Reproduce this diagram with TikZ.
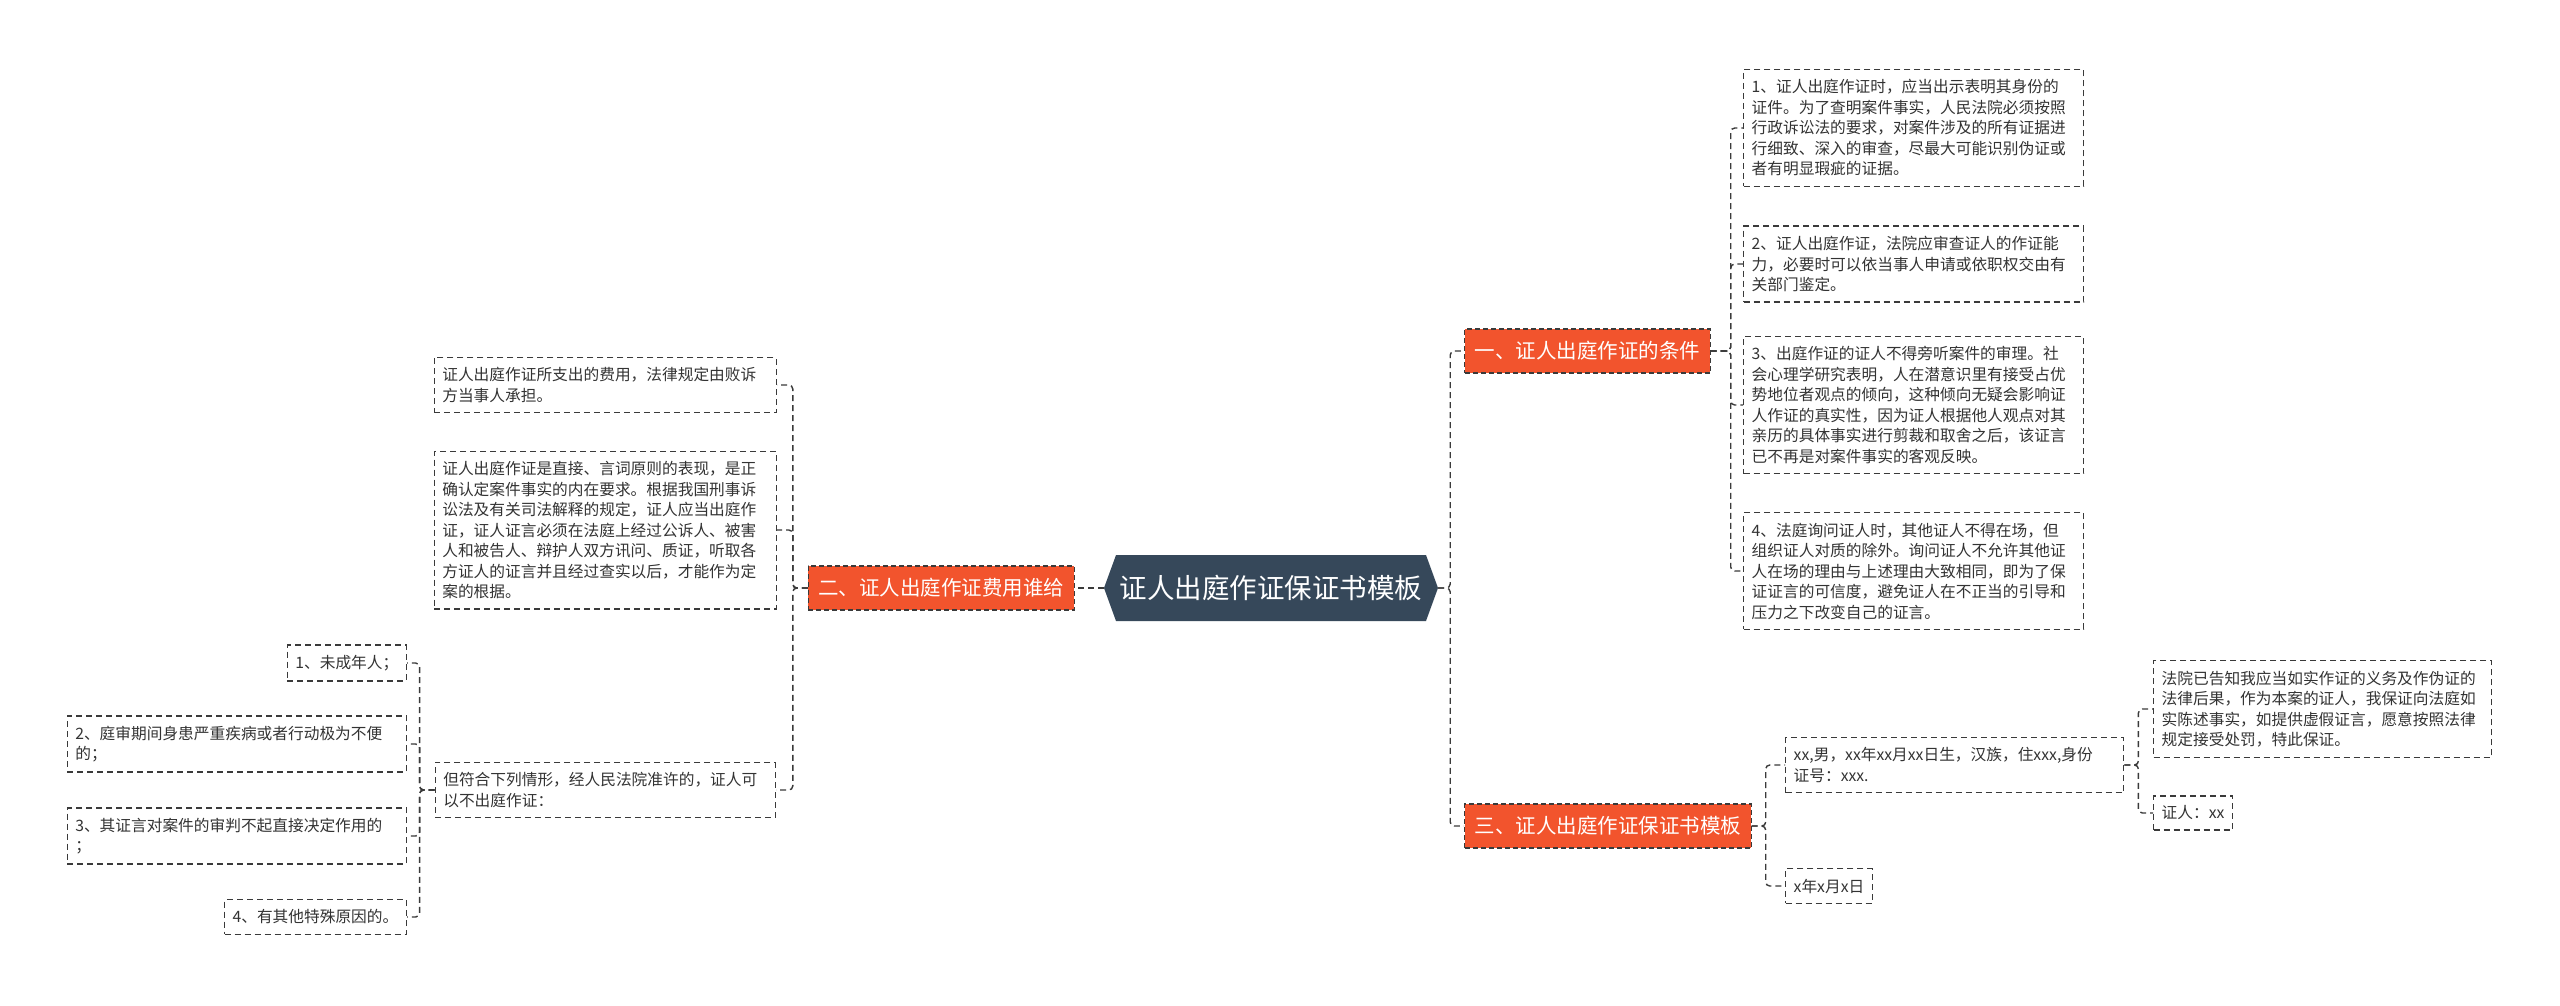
\documentclass[tikz,border=0pt]{standalone}
\usepackage{fontspec}
\setmainfont{Noto Sans CJK SC}
\usepackage{xcolor}
\usepackage{tikz}
\usetikzlibrary{shapes.symbols,positioning,calc}
\definecolor{rootfill}{HTML}{36485A}
\definecolor{branchfill}{HTML}{F2542D}
\definecolor{linkgray}{HTML}{3A3A3A}
\definecolor{leaftext}{HTML}{333333}

\begin{document}
\begin{tikzpicture}[
    x=1pt, y=-1pt,
    link/.style={draw=linkgray, line width=1.4pt, dash pattern=on 6pt off 4pt, rounded corners=4pt},
    rootbox/.style={signal, signal to=east and west, signal pointer angle=140, fill=rootfill, text=white, minimum width=334pt, minimum height=66pt, inner sep=0pt, font=\fontsize{27.5pt}{30pt}\selectfont},
    branch/.style={fill=branchfill, draw=linkgray, line width=1.2pt, dash pattern=on 5pt off 3pt, text=white, inner xsep=10pt, minimum height=44pt, font=\fontsize{20.5pt}{24pt}\selectfont},
    leaf/.style={draw=linkgray, line width=1.4pt, dash pattern=on 6pt off 4pt, text=leaftext, align=left, inner xsep=8pt, inner ysep=10pt, font=\fontsize{15.7pt}{20.5pt}\selectfont}
]
\fill[white] (0,0) rectangle (2560,1005);
\useasboundingbox (0,0) rectangle (2560,1005);

\node[rootbox] (root) at (1271,588) {证人出庭作证保证书模板};

\node[branch, anchor=west] (cond) at (1464,351) {一、证人出庭作证的条件};
\node[branch, anchor=east] (fee) at (1075,588) {二、证人出庭作证费用谁给};
\node[branch, anchor=west] (tmpl) at (1464,826) {三、证人出庭作证保证书模板};

\node[leaf, text width=324pt, anchor=west] (cond1) at (1743,128) {1、证人出庭作证时，应当出示表明其身份的\\证件。为了查明案件事实，人民法院必须按照\\行政诉讼法的要求，对案件涉及的所有证据进\\行细致、深入的审查，尽最大可能识别伪证或\\者有明显瑕疵的证据。};
\node[leaf, text width=324pt, anchor=west] (cond2) at (1743,264) {2、证人出庭作证，法院应审查证人的作证能\\力，必要时可以依当事人申请或依职权交由有\\关部门鉴定。};
\node[leaf, text width=324pt, anchor=west] (cond3) at (1743,405) {3、出庭作证的证人不得旁听案件的审理。社\\会心理学研究表明，人在潜意识里有接受占优\\势地位者观点的倾向，这种倾向无疑会影响证\\人作证的真实性，因为证人根据他人观点对其\\亲历的具体事实进行剪裁和取舍之后，该证言\\已不再是对案件事实的客观反映。};
\node[leaf, text width=324pt, anchor=west] (cond4) at (1743,571) {4、法庭询问证人时，其他证人不得在场，但\\组织证人对质的除外。询问证人不允许其他证\\人在场的理由与上述理由大致相同，即为了保\\证证言的可信度，避免证人在不正当的引导和\\压力之下改变自己的证言。};

\node[leaf, text width=322pt, anchor=west] (info) at (1785,765) {xx,男，xx年xx月xx日生，汉族，住xxx,身份\\证号：xxx.};
\node[leaf, anchor=west] (date) at (1785,886) {x年x月x日};
\node[leaf, text width=322pt, anchor=west] (pledge) at (2153,709) {法院已告知我应当如实作证的义务及作伪证的\\法律后果，作为本案的证人，我保证向法庭如\\实陈述事实，如提供虚假证言，愿意按照法律\\规定接受处罚，特此保证。};
\node[leaf, anchor=west] (sign) at (2153,813) {证人：xx};

\node[leaf, text width=326pt, anchor=east] (fee1) at (777,385) {证人出庭作证所支出的费用，法律规定由败诉\\方当事人承担。};
\node[leaf, text width=326pt, anchor=east] (fee2) at (777,530) {证人出庭作证是直接、言词原则的表现，是正\\确认定案件事实的内在要求。根据我国刑事诉\\讼法及有关司法解释的规定，证人应当出庭作\\证，证人证言必须在法庭上经过公诉人、被害\\人和被告人、辩护人双方讯问、质证，听取各\\方证人的证言并且经过查实以后，才能作为定\\案的根据。};
\node[leaf, text width=324pt, anchor=east] (fee3) at (776,790) {但符合下列情形，经人民法院准许的，证人可\\以不出庭作证：};

\node[leaf, anchor=east] (ex1) at (407,663) {1、未成年人；};
\node[leaf, text width=323pt, anchor=east] (ex2) at (407,744) {2、庭审期间身患严重疾病或者行动极为不便\\的；};
\node[leaf, text width=323pt, anchor=east] (ex3) at (407,836) {3、其证言对案件的审判不起直接决定作用的\\；};
\node[leaf, anchor=east] (ex4) at (407,917) {4、有其他特殊原因的。};

\draw[link] (root.west) -- (fee.east);
\foreach \n in {cond,tmpl}
    \draw[link] (root.east) -- ++(12,0) |- (\n.west);
\foreach \n in {cond1,cond2,cond3,cond4}
    \draw[link] (cond.east) -- ++(20,0) |- (\n.west);
\foreach \n in {info,date}
    \draw[link] (tmpl.east) -- ++(14,0) |- (\n.west);
\foreach \n in {pledge,sign}
    \draw[link] (info.east) -- ++(14,0) |- (\n.west);
\foreach \n in {fee1,fee2,fee3}
    \draw[link] (fee.west) -- ++(-15,0) |- (\n.east);
\foreach \n in {ex1,ex2,ex3,ex4}
    \draw[link] (fee3.west) -- ++(-15,0) |- (\n.east);
\end{tikzpicture}
\end{document}
